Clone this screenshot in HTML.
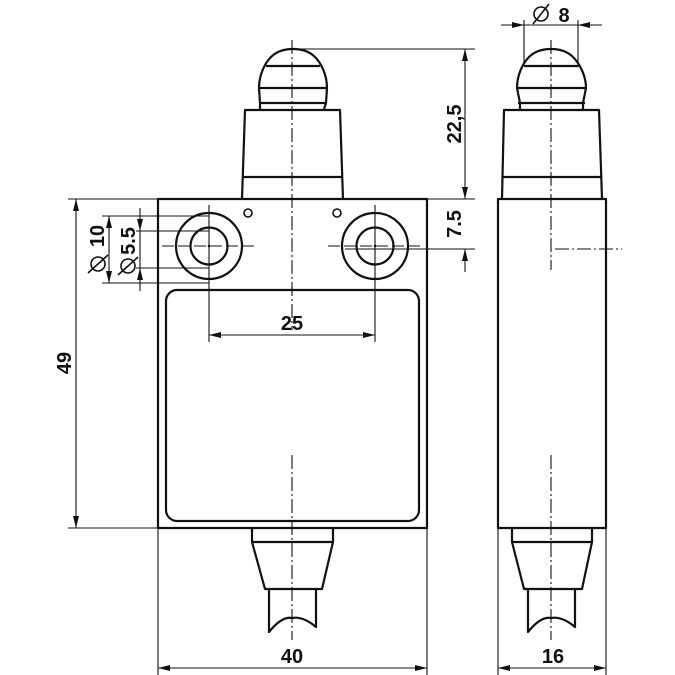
<!DOCTYPE html>
<html><head><meta charset="utf-8"><style>html,body{margin:0;padding:0;background:#fff}svg{display:block}</style></head>
<body>
<svg width="675" height="675" viewBox="0 0 675 675" xmlns="http://www.w3.org/2000/svg" font-family="Liberation Sans, sans-serif">
<defs>
<marker id="a" markerWidth="12" markerHeight="6" refX="12" refY="3" orient="auto" markerUnits="userSpaceOnUse"><path d="M0,0 L12,3 L0,6 z" fill="#111"/></marker>
</defs>
<g fill="none" stroke="#111" stroke-width="2.2" stroke-linejoin="round">
<rect x="158" y="199" width="269" height="329"/>
<rect x="166" y="290" width="253" height="231" rx="11"/>
<circle cx="209" cy="246" r="33"/><circle cx="209" cy="246" r="18.5"/>
<circle cx="375" cy="246" r="33"/><circle cx="375" cy="246" r="18.5"/>
<circle cx="248" cy="213" r="4" stroke-width="1.6"/><circle cx="337" cy="213" r="4" stroke-width="1.6"/>
<path d="M242,199 L245,110 L340,110 L343,199"/>
<line x1="243" y1="177" x2="342" y2="177"/>
<path d="M260,109 L260,103 L259,88 C259,76 264,64 271,57 C277,51 285,49 293,49 C301,49 309,51 315,57 C322,64 327,76 327,88 L326,103 L324,109"/>
<line x1="259" y1="88" x2="327" y2="88"/><line x1="266" y1="66" x2="320" y2="66"/><line x1="259" y1="103" x2="326" y2="103"/>
<path d="M252,528 L252,542 L265,589 L322,589 L333,542 L333,528"/>
<line x1="252" y1="542" x2="333" y2="542"/>
<path d="M269,589 L269,632 Q282,616 292,618 Q303,616 316,627 L316,589"/>
<rect x="498" y="199" width="108" height="329"/>
<path d="M502,199 L504,110 L599,110 L602,199"/>
<line x1="503" y1="177" x2="601" y2="177"/>
<path d="M520,109 L520,103 L517,88 C517,76 522,64 529,57 C535,51 543,49 551,49 C559,49 567,51 573,57 C580,64 586,76 586,88 L583,103 L583,109"/>
<line x1="517" y1="88" x2="586" y2="88"/><line x1="524" y1="66" x2="579" y2="66"/><line x1="518" y1="103" x2="585" y2="103"/>
<path d="M512,528 L512,542 L524,589 L582,589 L592,542 L592,528"/>
<line x1="512" y1="542" x2="592" y2="542"/>
<path d="M528,589 L528,632 Q541,616 551,618 Q562,616 575,627 L575,589"/>
</g>
<g stroke="#111" stroke-width="1.1" stroke-dasharray="14,3,2,3" fill="none">
<line x1="292" y1="40" x2="292" y2="330"/>
<line x1="292" y1="455" x2="292" y2="640"/>
<line x1="551" y1="40" x2="551" y2="270"/>
<line x1="551" y1="455" x2="551" y2="640"/>
<line x1="555" y1="249" x2="622" y2="249"/>
</g>
<g stroke="#111" stroke-width="1.1" fill="none">
<line x1="162" y1="246" x2="256" y2="246" stroke-dasharray="12,4"/>
<line x1="328" y1="246" x2="422" y2="246" stroke-dasharray="12,4"/>
<line x1="209" y1="205" x2="209" y2="342"/>
<line x1="375" y1="205" x2="375" y2="342"/>
<line x1="300" y1="49" x2="475" y2="49"/>
<line x1="427" y1="199" x2="475" y2="199"/>
<line x1="345" y1="249" x2="475" y2="249"/>
<line x1="68" y1="199" x2="158" y2="199"/>
<line x1="68" y1="528" x2="158" y2="528"/>
<line x1="102" y1="216" x2="209" y2="216"/>
<line x1="102" y1="283" x2="209" y2="283"/>
<line x1="136" y1="231" x2="209" y2="231"/>
<line x1="136" y1="268" x2="209" y2="268"/>
<line x1="158" y1="528" x2="158" y2="675"/>
<line x1="427" y1="528" x2="427" y2="675"/>
<line x1="498" y1="528" x2="498" y2="675"/>
<line x1="606" y1="528" x2="606" y2="675"/>
<line x1="524" y1="20" x2="524" y2="66"/>
<line x1="578" y1="20" x2="578" y2="66"/>
<line x1="465" y1="124" x2="465" y2="49" marker-end="url(#a)"/>
<line x1="465" y1="124" x2="465" y2="199" marker-end="url(#a)"/>
<line x1="465" y1="272" x2="465" y2="249" marker-end="url(#a)"/>
<line x1="76" y1="363" x2="76" y2="199" marker-end="url(#a)"/>
<line x1="76" y1="363" x2="76" y2="528" marker-end="url(#a)"/>
<line x1="109" y1="250" x2="109" y2="216" marker-end="url(#a)"/>
<line x1="109" y1="250" x2="109" y2="283" marker-end="url(#a)"/>
<line x1="140" y1="208" x2="140" y2="231" marker-end="url(#a)"/>
<line x1="140" y1="291" x2="140" y2="268" marker-end="url(#a)"/>
<line x1="140" y1="231" x2="140" y2="268"/>
<line x1="292" y1="335" x2="209" y2="335" marker-end="url(#a)"/>
<line x1="292" y1="335" x2="375" y2="335" marker-end="url(#a)"/>
<line x1="292" y1="668" x2="158" y2="668" marker-end="url(#a)"/>
<line x1="292" y1="668" x2="427" y2="668" marker-end="url(#a)"/>
<line x1="552" y1="668" x2="498" y2="668" marker-end="url(#a)"/>
<line x1="552" y1="668" x2="606" y2="668" marker-end="url(#a)"/>
<line x1="501" y1="25" x2="524" y2="25" marker-end="url(#a)"/>
<line x1="602" y1="25" x2="578" y2="25" marker-end="url(#a)"/>
<line x1="524" y1="25" x2="578" y2="25"/>
</g>
<g fill="#111" font-size="20" font-weight="bold" text-anchor="middle">
<text x="292" y="330">25</text>
<text x="292" y="663">40</text>
<text x="553" y="663">16</text>
<text x="564" y="22">8</text>
<text transform="translate(461,124) rotate(-90)">22,5</text>
<text transform="translate(461,224) rotate(-90)">7.5</text>
<text transform="translate(71,363) rotate(-90)">49</text>
<text transform="translate(104,236) rotate(-90)">10</text>
<text transform="translate(135,241) rotate(-90)">5.5</text>
</g>
<g fill="none" stroke="#111" stroke-width="1.6">
<circle cx="98" cy="264" r="7"/><line x1="88" y1="273" x2="108" y2="255"/>
<circle cx="128" cy="266" r="7"/><line x1="118" y1="275" x2="138" y2="257"/>
<circle cx="541" cy="14" r="7"/><line x1="533" y1="24" x2="549" y2="4"/>
</g>
<g fill="#111"><circle cx="209" cy="246" r="1.3"/><circle cx="375" cy="246" r="1.3"/></g>
</svg>
</body></html>
